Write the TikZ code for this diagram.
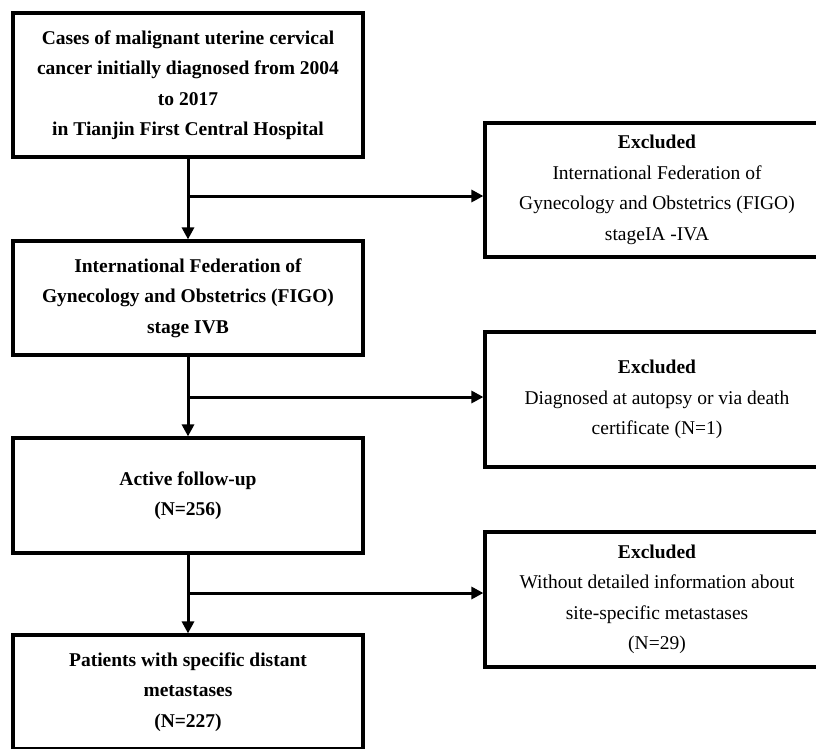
\documentclass[tikz,border=0pt]{standalone}
\usepackage{fontspec}
\setmainfont{Liberation Serif}
\usetikzlibrary{arrows.meta}
\begin{document}
\begin{tikzpicture}[x=1pt,y=-1pt,
  box/.style={draw, line width=3.2pt, align=center, inner sep=0pt,
    font=\fontsize{19.5}{30.5}\selectfont},
  mainbox/.style={box, minimum width=350pt, font=\fontsize{19.5}{30.5}\selectfont\bfseries},
  exbox/.style={box, minimum width=344pt},
  arr/.style={line width=3pt, -{Triangle[length=12pt,width=12pt]}},
  ln/.style={line width=3pt}]
\useasboundingbox (0,0) rectangle (816,748);
\clip (0,0) rectangle (816,748);
\node[mainbox, minimum height=144pt] (b1) at (188,85)
  {Cases of malignant uterine cervical\\cancer initially diagnosed from 2004\\to 2017\\in Tianjin First Central Hospital};
\node[mainbox, minimum height=114pt] (b2) at (188,298)
  {International Federation of\\Gynecology and Obstetrics (FIGO)\\stage IVB};
\node[mainbox, minimum height=115pt] (b3) at (188,495.5)
  {Active follow-up\\(N=256)};
\node[mainbox, minimum height=114pt] (b4) at (188,692)
  {Patients with specific distant\\metastases\\(N=227)};
\node[exbox, minimum height=134pt] (e1) at (657,190)
  {\textbf{Excluded}\\International Federation of\\Gynecology and Obstetrics (FIGO)\\stageIA -IVA};
\node[exbox, minimum height=135pt] (e2) at (657,399.5)
  {\textbf{Excluded}\\Diagnosed at autopsy or via death\\certificate (N=1)};
\node[exbox, minimum height=135pt] (e3) at (657,599.5)
  {\textbf{Excluded}\\Without detailed information about\\site-specific metastases\\(N=29)};
\coordinate (j1) at (188,196);
\coordinate (j2) at (188,397);
\coordinate (j3) at (188,593);
\draw[arr] (b1.south) -- (b2.north);
\draw[arr] (b2.south) -- (b3.north);
\draw[arr] (b3.south) -- (b4.north);
\draw[arr] (j1) -- (j1 -| e1.west);
\draw[arr] (j2) -- (j2 -| e2.west);
\draw[arr] (j3) -- (j3 -| e3.west);
\end{tikzpicture}
\end{document}
